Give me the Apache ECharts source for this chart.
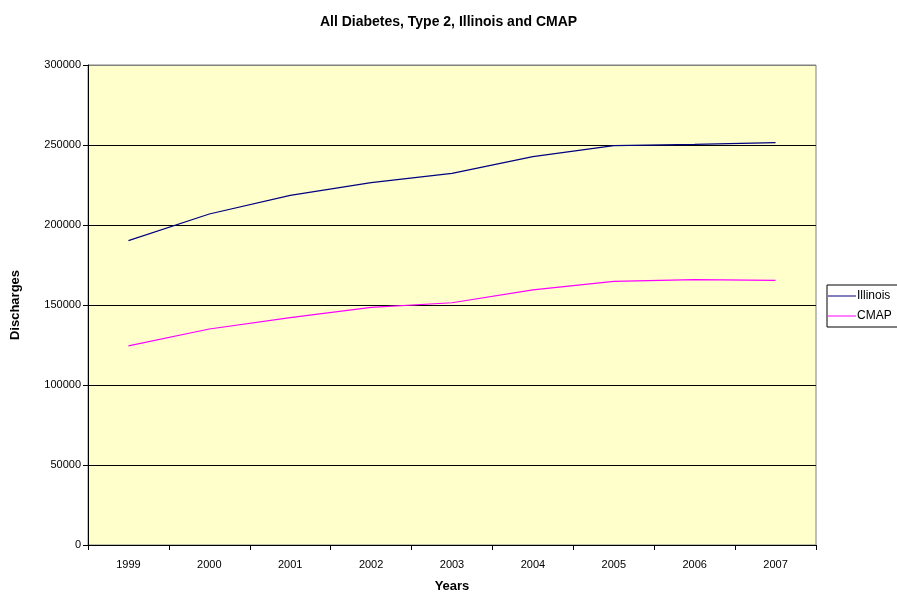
<!DOCTYPE html>
<html><head><meta charset="utf-8">
<script src="https://cdn.jsdelivr.net/npm/echarts@6/dist/echarts.min.js"></script>
<style>html,body{margin:0;padding:0;background:#fff}#c{width:897px;height:593px}</style>
</head><body><div id="c"></div>
<script>
var years = ['1999','2000','2001','2002','2003','2004','2005','2006','2007'];
var illinois = [190200, 206900, 218500, 226500, 232300, 242700, 249600, 250400, 251500];
var cmap = [124400, 135000, 142100, 148500, 151400, 159400, 164800, 165800, 165400];
var yTicks = [0, 50000, 100000, 150000, 200000, 250000, 300000];

var chart = echarts.init(document.getElementById('c'), null, {renderer:'canvas'});
var font = 'Liberation Sans, Arial, sans-serif';
chart.setOption({
  animation: false,
  backgroundColor: '#ffffff',
  title: {
    text: 'All Diabetes, Type 2, Illinois and CMAP',
    left: 'center', top: 10,
    textStyle: {fontFamily: font, fontSize: 14, fontWeight: 'bold', color: '#000'}
  },
  grid: {left: 88, top: 65, width: 728, height: 480, show: true, containLabel: false,
    outerBoundsMode: 'none',
    backgroundColor: '#FFFFCC', borderColor: '#808080', borderWidth: 1},
  legend: {
    orient: 'vertical', left: 827, top: 285,
    data: ['Illinois', 'CMAP'],
    borderColor: '#000', borderWidth: 1, backgroundColor: '#fff',
    padding: [4, 12, 4, 1], itemGap: 6, itemWidth: 28, itemHeight: 1,
    icon: 'rect',
    textStyle: {fontFamily: font, fontSize: 12, color: '#000', padding: [0,0,0,-4], lineHeight: 14}
  },
  xAxis: {
    type: 'category', data: years, boundaryGap: true,
    name: 'Years', nameLocation: 'middle', nameGap: 35,
    nameTextStyle: {fontFamily: font, fontSize: 13, fontWeight: 'bold', color: '#000'},
    axisLine: {lineStyle: {color: '#000', width: 1}},
    axisTick: {show: true, length: 5, lineStyle: {color: '#000'}},
    axisLabel: {fontFamily: font, fontSize: 11, color: '#000', margin: 14}
  },
  yAxis: {
    type: 'value', min: 0, max: 300000, interval: 50000,
    name: 'Discharges', nameLocation: 'middle', nameGap: 66, nameRotate: 90,
    nameTextStyle: {fontFamily: font, fontSize: 13, fontWeight: 'bold', color: '#000'},
    axisLine: {show: true, lineStyle: {color: '#000', width: 1}},
    axisTick: {show: true, length: 5, lineStyle: {color: '#000'}},
    axisLabel: {fontFamily: font, fontSize: 11, color: '#000', margin: 7,
      formatter: function(v){ return yTicks.indexOf(v) >= 0 ? String(v) : ''; }},
    splitLine: {show: true, lineStyle: {color: ['#000','#000','#000','#000','#000','#000','#808080'], width: 1}}
  },
  series: [
    {name: 'Illinois', type: 'line', data: illinois, symbol: 'none',
     lineStyle: {color: '#000080', width: 1.2}, itemStyle: {color: '#000080'}},
    {name: 'CMAP', type: 'line', data: cmap, symbol: 'none',
     lineStyle: {color: '#FF00FF', width: 1.2}, itemStyle: {color: '#FF00FF'}}
  ]
});
</script></body></html>
